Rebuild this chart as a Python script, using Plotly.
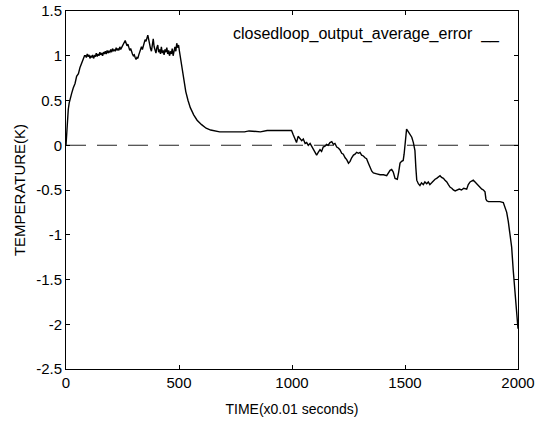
import plotly.graph_objects as go

# ---- data ----
t_rise = [0, 3, 6, 10, 14, 18, 25, 32, 40, 47, 55, 62, 70, 78, 82]
y_rise = [0.0, 0.15, 0.3, 0.4, 0.47, 0.52, 0.58, 0.64, 0.69, 0.77, 0.8, 0.87, 0.92, 0.97, 1.0]

t_plateau = list(range(86, 499, 4))
y_plateau = [1.0, 0.98, 1.02, 0.99, 1.01, 0.97, 1.0, 0.98, 1.01, 0.97, 1.0, 0.99, 1.03, 0.99, 1.02,
             1.0, 1.04, 1.01, 1.03, 1.0, 1.04, 1.02, 1.05, 1.02, 1.06, 1.03, 1.05, 1.04, 1.07, 1.04,
             1.08, 1.05, 1.07, 1.05, 1.09, 1.06, 1.08, 1.06, 1.1, 1.07, 1.09, 1.11, 1.13, 1.15, 1.17,
             1.14, 1.11, 1.13, 1.09, 1.06, 1.08, 1.04, 1.02, 1.0, 1.01, 0.98, 0.96, 0.98, 0.97, 1.01,
             1.04, 1.06, 1.1, 1.07, 1.1, 1.15, 1.18, 1.16, 1.21, 1.23, 1.18, 1.12, 1.08, 1.05, 1.12,
             1.19, 1.1, 1.06, 1.03, 1.09, 1.12, 1.04, 1.07, 1.02, 1.1, 1.03, 1.06, 1.01, 1.07, 1.04,
             1.09, 1.02, 1.06, 1.0, 1.05, 1.02, 1.08, 1.0, 1.06, 1.1, 1.05, 1.14, 1.09, 1.12]

t_decay = [502, 506, 512, 520, 530, 540, 550, 565, 580, 600, 620, 640, 660, 680, 700,
           730, 760, 790, 810, 830, 860, 890, 920, 950, 980, 998]
y_decay = [1.05, 0.98, 0.88, 0.75, 0.6, 0.5, 0.42, 0.34, 0.28, 0.23, 0.19, 0.17, 0.16, 0.15, 0.15,
           0.15, 0.15, 0.15, 0.16, 0.155, 0.15, 0.165, 0.165, 0.165, 0.165, 0.165]

t_drift = [1005, 1013, 1020, 1027, 1035, 1043, 1050, 1058, 1065, 1072, 1080, 1087, 1095, 1102,
           1109, 1116, 1124, 1131, 1138, 1146, 1153, 1160, 1168, 1176, 1183, 1190, 1198, 1205,
           1212, 1220, 1227, 1235, 1242, 1250, 1257, 1264, 1272, 1279, 1286, 1294, 1301, 1308,
           1316, 1323, 1330, 1338, 1345, 1353, 1360, 1368, 1375, 1390, 1405, 1419, 1427, 1434,
           1441, 1448, 1456, 1466, 1472, 1478, 1485, 1492, 1496]
y_drift = [0.12, 0.08, 0.03, 0.1, 0.07, 0.05, 0.07, 0.02, 0.03, 0.0, 0.02, -0.01, -0.04, -0.08,
           -0.11, -0.08, -0.05, -0.07, -0.02, -0.01, 0.01, 0.0, 0.03, 0.04, 0.01, 0.02, -0.02, -0.03,
           -0.05, -0.09, -0.1, -0.14, -0.16, -0.2, -0.18, -0.14, -0.11, -0.1, -0.08, -0.09, -0.08, -0.11,
           -0.12, -0.14, -0.15, -0.2, -0.25, -0.29, -0.31, -0.32, -0.32, -0.33, -0.33, -0.34, -0.3, -0.28,
           -0.27, -0.3, -0.37, -0.38, -0.3, -0.2, -0.18, -0.17, -0.1]

t_spike = [1500, 1504, 1507, 1515, 1522, 1530, 1537, 1544, 1548, 1552]
y_spike = [0.0, 0.12, 0.18, 0.15, 0.12, 0.09, 0.03, -0.06, -0.25, -0.39]

t_tail = [1559, 1566, 1573, 1581, 1588, 1596, 1603, 1610, 1618, 1625, 1633, 1640, 1648, 1655,
          1662, 1670, 1677, 1685, 1692, 1700, 1707, 1714, 1722, 1729, 1740, 1750, 1760, 1773,
          1780, 1788, 1795, 1802, 1810, 1817, 1825, 1832, 1840, 1847, 1854, 1858, 1862, 1869,
          1880, 1900, 1920, 1935, 1942, 1950, 1957, 1965, 1972, 1979, 1987, 1994, 1997, 2000]
y_tail = [-0.43, -0.45, -0.42, -0.44, -0.41, -0.43, -0.41, -0.44, -0.42, -0.4, -0.38, -0.37, -0.35, -0.34,
          -0.36, -0.37, -0.39, -0.41, -0.44, -0.47, -0.48, -0.5, -0.51, -0.5, -0.49, -0.5, -0.48, -0.49,
          -0.44, -0.41, -0.4, -0.39, -0.41, -0.43, -0.45, -0.47, -0.49, -0.5, -0.52, -0.6, -0.62, -0.63,
          -0.63, -0.63, -0.63, -0.64, -0.69, -0.75, -0.85, -0.99, -1.14, -1.4, -1.62, -1.8, -1.95, -2.05]

ref_t = [0, 2000]
ref_y = [0, 0]

x_ticks = [0, 500, 1000, 1500, 2000]
x_ticklabels = ["0", "500", "1000", "1500", "2000"]
y_ticks = [-2.5, -2, -1.5, -1, -0.5, 0, 0.5, 1, 1.5]
y_ticklabels = ["-2.5", "-2", "-1.5", "-1", "-0.5", "0", "0.5", "1", "1.5"]

legend_text = "closedloop_output_average_error  __"

# ---- assemble ----
time = t_rise + t_plateau + t_decay + t_drift + t_spike + t_tail
error = y_rise + y_plateau + y_decay + y_drift + y_spike + y_tail
assert len(t_plateau) == len(y_plateau), (len(t_plateau), len(y_plateau))
assert len(time) == len(error), (len(time), len(error))

FONT = "Liberation Sans, Arial, sans-serif"

fig = go.Figure()
fig.add_trace(go.Scatter(x=ref_t, y=ref_y, mode="lines",
                         line=dict(color="#222222", width=1, dash="20px,11px"),
                         showlegend=False, hoverinfo="skip"))
fig.add_trace(go.Scatter(x=time, y=error, mode="lines",
                         line=dict(color="black", width=1.4),
                         name="closedloop_output_average_error", showlegend=False))

axis_common = dict(showline=True, linecolor="black", linewidth=1, mirror="ticks",
                   ticks="inside", ticklen=4, tickwidth=1, tickcolor="black",
                   showgrid=False, zeroline=False,
                   tickfont=dict(family=FONT, size=15, color="black"))

fig.update_xaxes(range=[0, 2000], tickvals=x_ticks, ticktext=x_ticklabels,
                 title=dict(text="TIME(x0.01 seconds)", font=dict(family=FONT, size=14, color="black"),
                            standoff=14),
                 **axis_common)
fig.update_yaxes(range=[-2.5, 1.5], tickvals=y_ticks, ticktext=y_ticklabels,
                 title=dict(text="TEMPERATURE(K)", font=dict(family=FONT, size=15, color="black"),
                            standoff=6),
                 **axis_common)

fig.add_annotation(x=1929, y=1.24, xref="x", yref="y", text=legend_text, showarrow=False,
                   xanchor="right", yanchor="middle",
                   font=dict(family=FONT, size=16, color="black"))

fig.update_layout(width=547, height=421,
                  margin=dict(l=66, r=29, t=11, b=52, autoexpand=False),
                  paper_bgcolor="white", plot_bgcolor="white",
                  font=dict(family=FONT, color="black"))

fig.write_html("out.html")
